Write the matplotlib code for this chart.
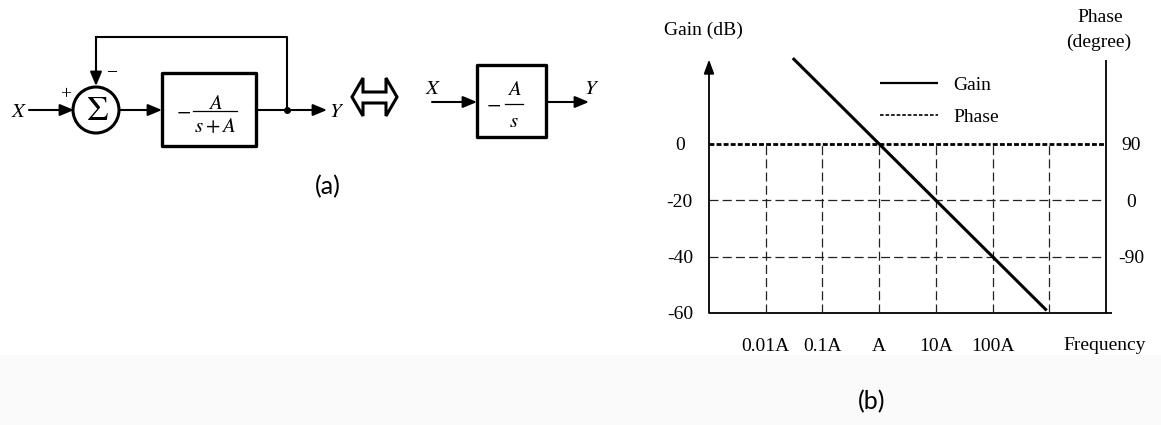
import matplotlib
matplotlib.use('Agg')
import matplotlib.pyplot as plt
from matplotlib.patches import Circle, Rectangle, Polygon
from matplotlib.ticker import NullLocator

plt.rcParams['mathtext.fontset'] = 'stix'
plt.rcParams['lines.scale_dashes'] = False
SERIF = 'Liberation Serif'

# Bode data (frequency in units of A)
gain_freq = [0.03, 900]
gain_db = [30.5, -59.1]
phase_freq = [0.001, 10000]
phase_deg = [90, 90]
freq_ticks = [0.01, 0.1, 1, 10, 100]
freq_tick_labels = ['0.01A', '0.1A', 'A', '10A', '100A']
grid_freqs = [0.01, 0.1, 1, 10, 100, 1000]
gain_ticks = [0, -20, -40, -60]
gain_tick_labels = ['0', '-20', '-40', '-60']
phase_ticks = [90, 0, -90]
phase_tick_labels = ['90', '0', '-90']
gain_grid = [-20, -40]

W, H = 1161, 425
fig = plt.figure(figsize=(W / 100, H / 100), dpi=100)

# pixel-unit canvas for the block diagrams and free text
cv = fig.add_axes([0, 0, 1, 1])
cv.set_xlim(0, W)
cv.set_ylim(H, 0)
cv.axis('off')
cv.add_patch(Rectangle((0, 355), W, H - 355, color='#fafafa', lw=0, zorder=0))

LW = 1.5


def arrow(p0, p1, ax=cv):
    ax.annotate('', xy=p1, xytext=p0, xycoords='data',
                arrowprops=dict(arrowstyle='-|>,head_length=0.6,head_width=0.25',
                                mutation_scale=14, lw=LW, color='k',
                                shrinkA=0, shrinkB=0))


def mtext(x, y, s, size=15):
    cv.text(x, y, s, ha='center', va='center', fontsize=size)


# ---- (a) closed loop with summing junction ----
mtext(19, 111, r'$X$')
arrow((29, 110), (74, 110))
cv.add_patch(Circle((96, 110), 23, fill=False, lw=2.2, color='k'))
mtext(97, 110, r'$\Sigma$', size=25)
cv.text(66, 95, '+', ha='center', va='center', fontsize=14, family=SERIF)
cv.text(112, 73, '\u2212', ha='center', va='center', fontsize=14, family=SERIF)
arrow((119, 110), (162, 110))
cv.add_patch(Rectangle((162, 73), 94, 73, fill=False, lw=2.4, color='k',
                       joinstyle='round'))
mtext(183, 111, r'$-$', size=15)
cv.plot([193, 237], [111, 111], color='k', lw=0.9)
mtext(215, 103, r'$A$', size=15)
mtext(215, 126, r'$s+A$', size=15)
cv.plot([256, 287], [110, 110], color='k', lw=LW)
arrow((287, 110), (327, 110))
cv.plot([287, 287, 96], [110, 37, 37], color='k', lw=LW)
arrow((96, 37), (96, 86))
cv.plot([287], [110], 'o', color='k', ms=4)
mtext(337, 111, r'$Y$')

# equivalence double arrow
dbl = [(352, 97), (363, 78), (363, 92), (386, 92), (386, 78), (397, 97),
       (386, 116), (386, 103), (363, 103), (363, 116)]
cv.add_patch(Polygon(dbl, closed=True, fill=False, lw=2.2, color='k',
                     joinstyle='miter'))

# ---- (a) equivalent integrator ----
mtext(433, 88, r'$X$')
arrow((432, 102), (477, 102))
cv.add_patch(Rectangle((477, 65), 69, 72, fill=False, lw=2.4, color='k',
                       joinstyle='round'))
mtext(494, 104, r'$-$', size=15)
cv.plot([505, 523], [104, 104], color='k', lw=0.9)
mtext(514, 89, r'$A$', size=15)
mtext(514, 121, r'$s$', size=15)
arrow((546, 102), (589, 102))
mtext(592, 88, r'$Y$')

cv.text(328, 187, '(a)', ha='center', va='center', fontsize=18,
        family='Lato')
cv.text(872, 402, '(b)', ha='center', va='center', fontsize=18,
        family='Lato')

# ---- (b) Bode plot ----
x0, x1 = 709, 1106
y_bot, y_top = 313, 59.5
ax = fig.add_axes([x0 / W, (H - y_bot) / H, (x1 - x0) / W, (y_bot - y_top) / H])
ax.patch.set_alpha(0)
ax.set_xscale('log')
ax.set_xlim(1e-3, 1e4)
ax.set_ylim(-60, 30)
for s in ax.spines.values():
    s.set_visible(False)

ax.plot([0, 1.016], [0, 0], transform=ax.transAxes, color='k', lw=1.3,
        clip_on=False, solid_capstyle='butt')
ax.plot([1, 1], [0, 1], transform=ax.transAxes, color='k', lw=1.3,
        clip_on=False, solid_capstyle='butt')
ax.annotate('', xy=(0, 1.0), xytext=(0, 0), xycoords='axes fraction',
            arrowprops=dict(arrowstyle='-|>,head_length=0.6,head_width=0.22',
                            mutation_scale=14, lw=1.3, color='k',
                            shrinkA=0, shrinkB=0))

grid_style = (0, (6.5, 3))
ax.vlines(grid_freqs, -60, 0, colors='#222', lw=0.9, linestyles=[grid_style])
ax.hlines(gain_grid, 1e-3, 1e4, colors='#222', lw=0.9, linestyles=[grid_style])

gain_line, = ax.plot(gain_freq, gain_db, color='k', lw=2.2, clip_on=False,
                     solid_capstyle='butt', label='Gain', zorder=4)

ax.set_xticks(freq_ticks)
ax.set_xticklabels(freq_tick_labels, fontfamily=SERIF, fontsize=14)
ax.xaxis.set_minor_locator(NullLocator())
ax.tick_params(axis='x', length=0, pad=18)
ax.set_yticks(gain_ticks)
ax.set_yticklabels(gain_tick_labels, fontfamily=SERIF, fontsize=14)
ax.tick_params(axis='y', length=0, pad=21)
for lab in ax.get_yticklabels():
    lab.set_horizontalalignment('center')

ax2 = ax.twinx()
ax2.set_ylim(-180, 225)
for s in ax2.spines.values():
    s.set_visible(False)
ax2.set_yticks(phase_ticks)
ax2.set_yticklabels(phase_tick_labels, fontfamily=SERIF, fontsize=14)
ax2.tick_params(axis='y', length=0, pad=18)
for lab in ax2.get_yticklabels():
    lab.set_horizontalalignment('center')

phase_line, = ax2.plot(phase_freq, phase_deg, color='k', lw=2.0,
                       linestyle=(0, (3.5, 1.6)), label='Phase', zorder=5)

leg = ax2.legend(handles=[gain_line, phase_line], loc='upper left',
                 bbox_to_anchor=(880 / W, 1 - 76 / H),
                 bbox_transform=fig.transFigure, frameon=False,
                 prop={'family': SERIF, 'size': 14}, handlelength=3.0,
                 handletextpad=0.75, labelspacing=0.75, borderpad=0,
                 borderaxespad=0)
lg = leg.get_lines()
lg[0].set_linewidth(1.6)
lg[1].set_linewidth(1.2)
lg[1].set_linestyle((0, (2.6, 1.4)))

cv.text(703.5, 30, 'Gain (dB)', ha='center', va='center', family=SERIF, fontsize=14)
cv.text(1100, 17, 'Phase', ha='center', va='center', family=SERIF, fontsize=14)
cv.text(1099, 42, '(degree)', ha='center', va='center', family=SERIF, fontsize=14)
cv.text(1105, 345, 'Frequency', ha='center', va='center', family=SERIF, fontsize=14)

fig.savefig('out.png', dpi=100)
